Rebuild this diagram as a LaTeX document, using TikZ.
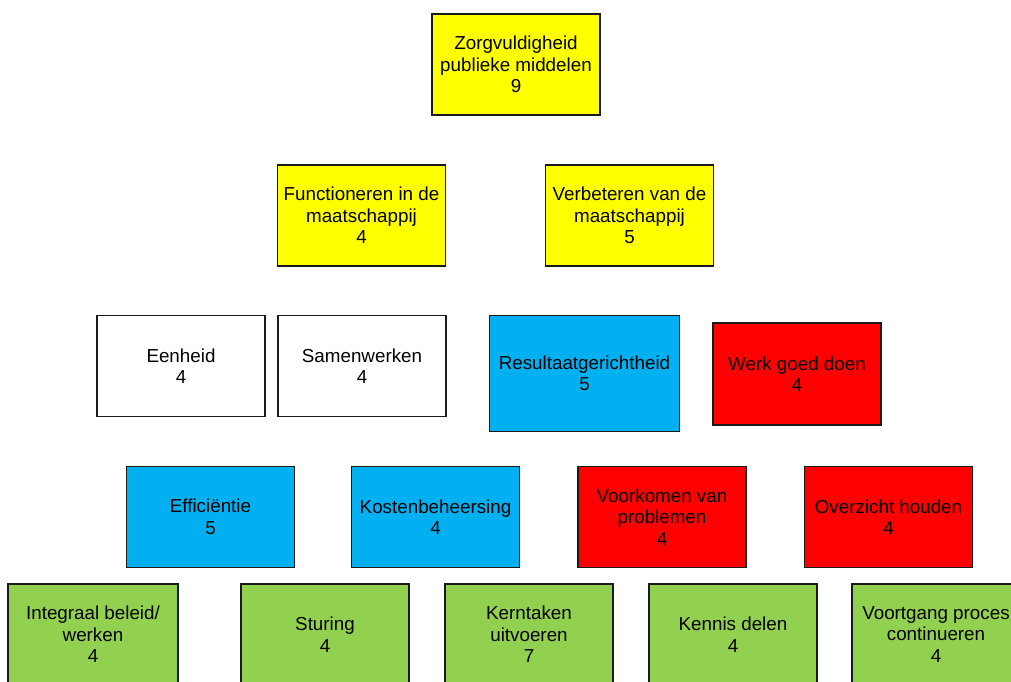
\documentclass[tikz,border=0pt]{standalone}
\usepackage{fontspec}
\setmainfont{Liberation Sans}
\definecolor{boxyellow}{HTML}{FFFF00}
\definecolor{boxblue}{HTML}{00B0F0}
\definecolor{boxred}{HTML}{FF0000}
\definecolor{boxgreen}{HTML}{92D050}
\definecolor{edge}{HTML}{1A1A1A}
\begin{document}
\begin{tikzpicture}[x=1pt,y=-1pt,
  card/.style={draw=edge, line width=1.4pt, inner sep=0pt, align=center,
    minimum width=168pt, minimum height=101pt,
    font=\fontsize{18.8}{21.5}\selectfont},
  yel/.style={card, fill=boxyellow},
  wht/.style={card, fill=white},
  blu/.style={card, fill=boxblue},
  rd/.style={card, fill=boxred},
  grn/.style={card, fill=boxgreen}]
\clip (0,0) rectangle (1011,682);
\fill[white] (0,0) rectangle (1011,682);

% top level
\node[yel] (top) at (516,64.5) {Zorgvuldigheid\\publieke middelen\\9};

% second level
\node[yel] (func) at (361.5,215.5) {Functioneren in de\\maatschappij\\4};
\node[yel] (verb) at (629.5,215.5) {Verbeteren van de\\maatschappij\\5};

% third level
\node[wht] (eenh) at (181,366) {Eenheid\\4};
\node[wht] (samen) at (362,366) {Samenwerken\\4};
\node[blu, minimum width=190pt, minimum height=116pt] (result) at (584.5,373.5) {Resultaatgerichtheid\\5};
\node[rd, minimum height=102pt] (werk) at (797,374) {Werk goed doen\\4};

% fourth level
\node[blu] (effic) at (210.5,517) {Efficiëntie\\5};
\node[blu] (kost) at (435.5,517) {Kostenbeheersing\\4};
\node[rd] (voork) at (662,517) {Voorkomen van\\problemen\\4};
\node[rd] (overz) at (888.5,517) {Overzicht houden\\4};

% bottom level
\node[grn, minimum width=170pt] (integ) at (93,634.5) {Integraal beleid/\\werken\\4};
\node[grn] (stur) at (325,634.5) {Sturing\\4};
\node[grn] (kern) at (529,634.5) {Kerntaken\\uitvoeren\\7};
\node[grn] (kenn) at (733,634.5) {Kennis delen\\4};
\node[grn] (voortg) at (936,634.5) {Voortgang proces\\continueren\\4};
\end{tikzpicture}
\end{document}
